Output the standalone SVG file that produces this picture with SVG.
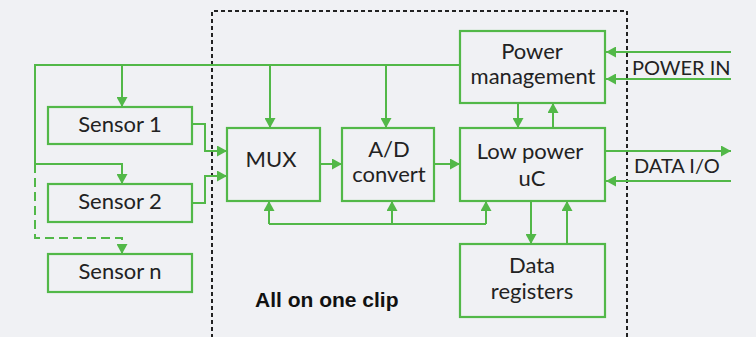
<svg xmlns="http://www.w3.org/2000/svg" width="756" height="337" viewBox="0 0 756 337">
  <defs>
    <style>
      .box { fill: none; stroke: #52b848; stroke-width: 2.2; }
      .wire { fill: none; stroke: #52b848; stroke-width: 2; }
      .dash { stroke-dasharray: 9 5; }
      .lbl { font-family: Lato, "Liberation Sans", sans-serif; font-size: 22px; fill: #222; text-anchor: middle; }
      .io { font-family: Lato, "Liberation Sans", sans-serif; font-size: 20px; fill: #222; }
      .note { font-family: "Liberation Sans", Arial, sans-serif; font-size: 21px; font-weight: bold; fill: #111; }
    </style>
    <marker id="arrow" markerUnits="userSpaceOnUse" markerWidth="10" markerHeight="11" refX="10" refY="5.5" orient="auto">
      <path d="M0,0 L10,5.5 L0,11 z" fill="#52b848"/>
    </marker>
  </defs>

  <rect x="0" y="0" width="756" height="337" fill="#f0f1f4"/>

  <!-- chip boundary -->
  <path d="M212,345 V11 H627 V345" fill="none" stroke="#222" stroke-width="2" stroke-dasharray="4 3"/>

  <g id="connectors">
    <!-- supply bus -->
    <path class="wire" d="M460,65 H35 V164 H122 V184" marker-end="url(#arrow)"/>
    <path class="wire dash" d="M35,164 V238 H122 V254" marker-end="url(#arrow)"/>
    <path class="wire" d="M122,65 V107" marker-end="url(#arrow)"/>
    <path class="wire" d="M270,65 V128" marker-end="url(#arrow)"/>
    <path class="wire" d="M386,65 V128" marker-end="url(#arrow)"/>
    <!-- sensors into MUX -->
    <path class="wire" d="M192,124 H205 V151 H227" marker-end="url(#arrow)"/>
    <path class="wire" d="M192,203 H205 V176 H227" marker-end="url(#arrow)"/>
    <!-- signal chain -->
    <path class="wire" d="M320,164 H342" marker-end="url(#arrow)"/>
    <path class="wire" d="M434,164 H460" marker-end="url(#arrow)"/>
    <!-- power management / uC -->
    <path class="wire" d="M518,103 V128" marker-end="url(#arrow)"/>
    <path class="wire" d="M553,128 V103" marker-end="url(#arrow)"/>
    <!-- control bus -->
    <path class="wire" d="M269,224 H486"/>
    <path class="wire" d="M269,224 V201" marker-end="url(#arrow)"/>
    <path class="wire" d="M392,224 V201" marker-end="url(#arrow)"/>
    <path class="wire" d="M486,224 V201" marker-end="url(#arrow)"/>
    <!-- uC / registers -->
    <path class="wire" d="M531,201 V244" marker-end="url(#arrow)"/>
    <path class="wire" d="M567,244 V201" marker-end="url(#arrow)"/>
    <!-- external -->
    <path class="wire" d="M731,52 H606" marker-end="url(#arrow)"/>
    <path class="wire" d="M731,79 H606" marker-end="url(#arrow)"/>
    <path class="wire" d="M606,151 H731" marker-end="url(#arrow)"/>
    <path class="wire" d="M731,181 H606" marker-end="url(#arrow)"/>
  </g>

  <g id="sensor1">
    <rect class="box" x="48" y="107" width="144" height="37"/>
    <text class="lbl" x="120" y="132">Sensor 1</text>
  </g>
  <g id="sensor2">
    <rect class="box" x="48" y="184" width="144" height="38"/>
    <text class="lbl" x="120" y="209">Sensor 2</text>
  </g>
  <g id="sensorn">
    <rect class="box" x="48" y="254" width="144" height="38"/>
    <text class="lbl" x="120" y="279">Sensor n</text>
  </g>
  <g id="mux">
    <rect class="box" x="227" y="128" width="93" height="73"/>
    <text class="lbl" x="271" y="167">MUX</text>
  </g>
  <g id="adc">
    <rect class="box" x="342" y="128" width="92" height="73"/>
    <text class="lbl" x="389" y="157">A/D</text>
    <text class="lbl" x="389" y="182">convert</text>
  </g>
  <g id="uc">
    <rect class="box" x="460" y="128" width="145" height="73"/>
    <text class="lbl" x="530" y="159">Low power</text>
    <text class="lbl" x="532" y="186">uC</text>
  </g>
  <g id="power">
    <rect class="box" x="460" y="31" width="145" height="72"/>
    <text class="lbl" x="532" y="59">Power</text>
    <text class="lbl" x="533" y="84">management</text>
  </g>
  <g id="registers">
    <rect class="box" x="460" y="244" width="145" height="73"/>
    <text class="lbl" x="532" y="273">Data</text>
    <text class="lbl" x="532" y="299">registers</text>
  </g>

  <text class="io" x="632" y="75">POWER IN</text>
  <text class="io" x="634" y="173">DATA I/O</text>
  <text class="note" x="255" y="307">All on one clip</text>
</svg>
